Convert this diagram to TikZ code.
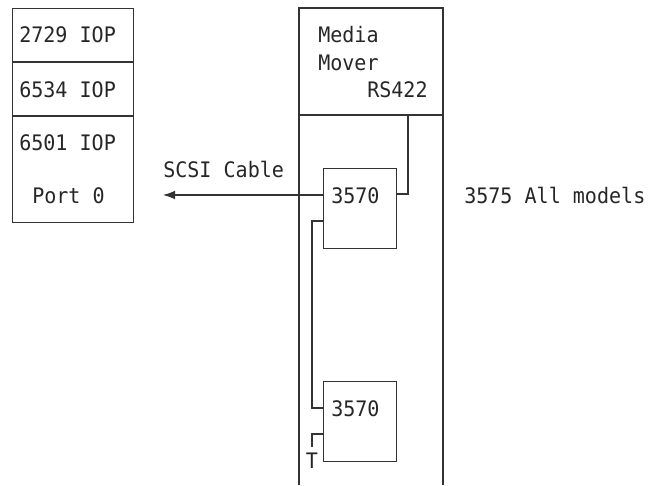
\documentclass[tikz,border=0pt]{standalone}
\usepackage{fontspec}
\setmonofont[FakeStretch=0.94]{DejaVu Sans Mono}
\usetikzlibrary{arrows.meta,calc}
\begin{document}
\begin{tikzpicture}[x=0.75pt,y=-0.75pt,
  ln/.style={draw=black!80,line width=0.8pt},
  box/.style={ln,rectangle,inner sep=0pt,anchor=north west},
  lbl/.style={font=\ttfamily\fontsize{16}{16}\selectfont,text=black!85,inner sep=0pt,anchor=base west}]
\useasboundingbox (0,0) rectangle (652,485);
% left stack
\node[box,minimum width=90.75pt,minimum height=160.5pt] (stack) at (12,8) {};
\coordinate (d1l) at (12,62); \coordinate (d1r) at (133,62);
\coordinate (d2l) at (12,116); \coordinate (d2r) at (133,116);
\draw[ln] (d1l) -- (d1r);
\draw[ln] (d2l) -- (d2r);
\node[lbl] (t1) at (19,43) {2729 IOP};
\node[lbl] (t2) at (19,97) {6534 IOP};
\node[lbl] (t3) at (19,150) {6501 IOP};
\node[lbl] (t4) at (32,203) {Port 0};
% media mover frame
\coordinate (fbl) at (299,485); \coordinate (ftl) at (299,8);
\coordinate (ftr) at (443,8); \coordinate (fbr) at (443,485);
\coordinate (fdl) at (299,115); \coordinate (fdr) at (443,115);
\draw[ln] (fbl) -- (ftl) -- (ftr) -- (fbr);
\draw[ln] (fdl) -- (fdr);
\node[lbl] (mm1) at (318,43) {Media};
\node[lbl] (mm2) at (318,70) {Mover};
\node[lbl] (mm3) at (367,97) {RS422};
% drives
\node[box,minimum width=54.75pt,minimum height=60pt] (up) at (323,168) {};
\node[box,minimum width=54.75pt,minimum height=60pt] (lo) at (323,381) {};
\node[lbl] (u1) at (331,203) {3570};
\node[lbl] (l1) at (331,416) {3570};
\node[lbl] (scsi) at (163,177) {SCSI Cable};
\node[lbl] (all) at (464,203) {3575 All models};
\node[lbl,anchor=base] (term) at (312,468) {T};
% connectors
\coordinate (rsT) at (408,115);
\coordinate (rsB) at (408,194);
\draw[ln] (rsT) -- (rsB) -- (rsB -| up.east);
\coordinate (arrEnd) at (163,195);
\draw[ln,-{Latex[length=9pt,width=6.5pt]}] (arrEnd -| up.west) -- (arrEnd);
\coordinate (c1) at (312,221);
\coordinate (c2) at (312,408);
\draw[ln] (c1 -| up.west) -- (c1) -- (c2) -- (c2 -| lo.west);
\coordinate (t0) at (312,434);
\coordinate (tB) at (312,447);
\draw[ln] (t0 -| lo.west) -- (t0) -- (tB);
\end{tikzpicture}
\end{document}
